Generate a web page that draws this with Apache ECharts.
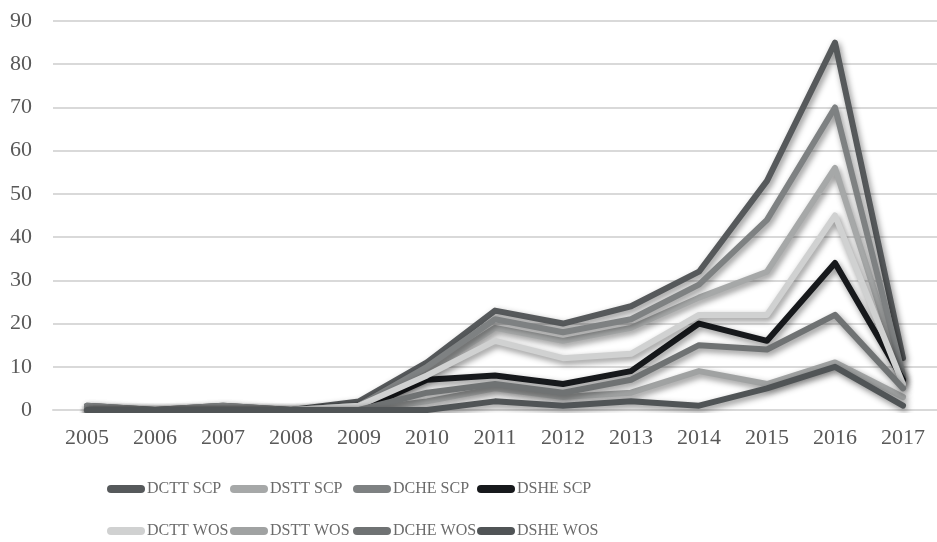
<!DOCTYPE html>
<html><head><meta charset="utf-8">
<script src="https://cdn.jsdelivr.net/npm/echarts@6/dist/echarts.min.js"></script>
<style>html,body{margin:0;padding:0;background:#fff}#c{width:937px;height:542px}</style>
</head><body><div id="c"></div>
<script>
const years = ['2005','2006','2007','2008','2009','2010','2011','2012','2013','2014','2015','2016','2017'];
const seriesNames = ['DCTT SCP','DSTT SCP','DCHE SCP','DSHE SCP','DCTT WOS','DSTT WOS','DCHE WOS','DSHE WOS'];
const dcttScp = [1,0,1,0,2,11,23,20,24,32,53,85,12];
const dsttScp = [0,0,0,0,1,9,19,16,19,26,32,56,7];
const dcheScp = [1,0,1,0,1,10,21,18,21,29,44,70,8];
const dsheScp = [0,0,0,0,0,7,8,6,9,20,16,34,7];
const dcttWos = [0,0,0,0,1,8,16,12,13,22,22,45,6];
const dsttWos = [0,0,0,0,0,2,5,3,4,9,6,11,3];
const dcheWos = [0,0,0,0,0,4,6,4,7,15,14,22,5];
const dsheWos = [0,0,0,0,0,0,2,1,2,1,5,10,1];
const yMin = 0, yMax = 90, yStep = 10;

const seriesData = [dcttScp, dsttScp, dcheScp, dsheScp, dcttWos, dsttWos, dcheWos, dsheWos];
const colors = ['#56595b','#a6a8a8','#7e8182','#17191c','#d0d1d1','#a0a2a2','#6f7273','#505456'];
const legendX = [107, 230, 353, 477];
const legendY = [481, 523];
const font = '"Liberation Serif", "Times New Roman", serif';

const chart = echarts.init(document.getElementById('c'), null, {renderer: 'canvas'});
const legends = seriesNames.map((n, i) => ({
  data: [n],
  left: legendX[i % 4],
  top: legendY[Math.floor(i / 4)],
  orient: 'horizontal',
  padding: 0,
  itemWidth: 38,
  itemHeight: 8,
  icon: 'path://M4,0H34A4,4 0 0 1 34,8H4A4,4 0 0 1 4,0Z',
  selectedMode: false,
  textStyle: {fontFamily: font, fontSize: 16, color: '#6b6b6b', padding: [0, 0, 0, -3]}
}));

chart.setOption({
  animation: false,
  backgroundColor: '#ffffff',
  grid: {left: 53, top: 21, width: 893, height: 389, containLabel: false},
  legend: legends,
  xAxis: {
    type: 'category',
    data: years,
    boundaryGap: true,
    axisLine: {show: true, lineStyle: {color: '#d9d9d9', width: 2}},
    axisTick: {show: false},
    axisLabel: {fontFamily: font, fontSize: 22, color: '#595959', margin: 17}
  },
  yAxis: {
    type: 'value',
    min: yMin, max: yMax, interval: yStep,
    axisLine: {show: false},
    axisTick: {show: false},
    splitLine: {lineStyle: {color: '#d9d9d9', width: 2}},
    axisLabel: {fontFamily: font, fontSize: 22, color: '#595959', margin: 21}
  },
  series: seriesNames.map((n, i) => ({
    name: n,
    type: 'line',
    data: seriesData[i],
    showSymbol: false,
    symbol: 'none',
    color: colors[i],
    lineStyle: {
      width: 6, color: colors[i], cap: 'round', join: 'round',
      shadowColor: 'rgba(0,0,0,0.45)', shadowBlur: 6, shadowOffsetX: 2, shadowOffsetY: 3
    },
    emphasis: {disabled: true}
  }))
});
</script></body></html>
